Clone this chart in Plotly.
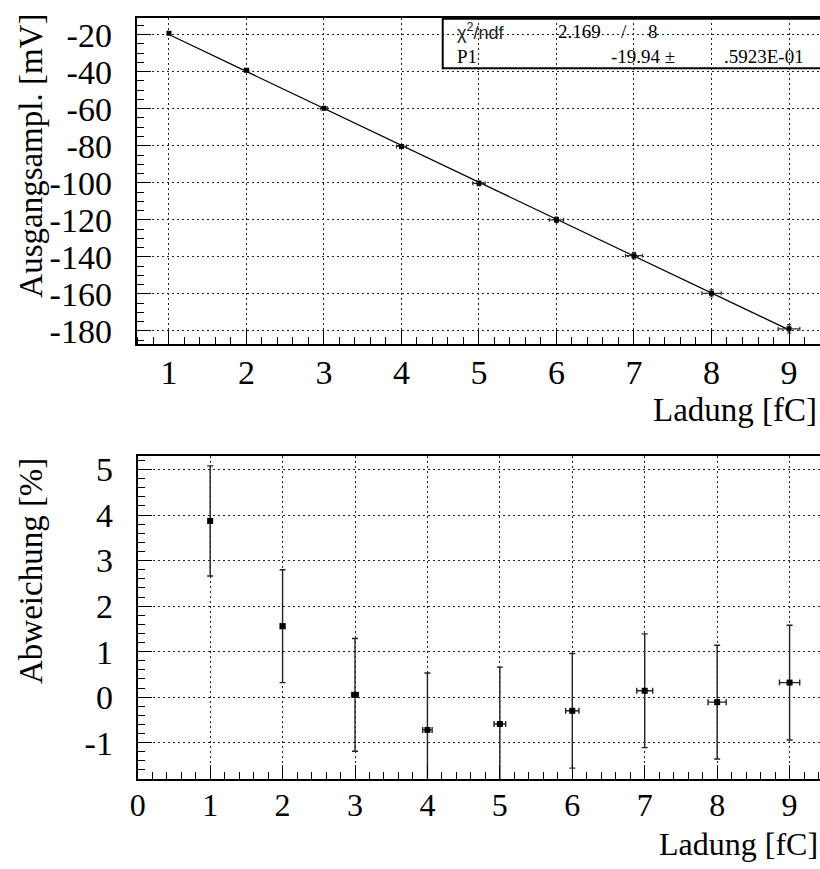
import plotly.graph_objects as go

# Charge steps [fC]
charge = [1, 2, 3, 4, 5, 6, 7, 8, 9]
charge_err = [0.016, 0.03, 0.047, 0.065, 0.08, 0.092, 0.11, 0.125, 0.14]

# Output amplitude [mV] and its uncertainty
amplitude = [-19.17, -39.26, -59.79, -80.34, -100.29, -120.0, -139.38, -159.70, -178.89]
amplitude_err = [0.25, 0.5, 0.75, 1.0, 1.25, 1.5, 1.75, 2.0, 2.25]

# Relative deviation from the linear fit [%]
deviation = [3.87, 1.56, 0.05, -0.72, -0.59, -0.30, 0.14, -0.11, 0.32]
deviation_err = [1.21, 1.24, 1.24, 1.25, 1.25, 1.26, 1.25, 1.25, 1.26]

# Fit result: U = P1 * Q
fit_p1 = -19.94
fit_p1_err = ".5923E-01"
chi2 = "2.169"
ndf = "8"

top_yticks = [-180, -160, -140, -120, -100, -80, -60, -40, -20]
top_xticks = [1, 2, 3, 4, 5, 6, 7, 8, 9]
bot_yticks = [-1, 0, 1, 2, 3, 4, 5]
bot_xticks = [0, 1, 2, 3, 4, 5, 6, 7, 8, 9]

W, H = 820, 869
SERIF = "Liberation Serif"
SANS = "Liberation Sans"


def px(x):
    return x / W


def py(y):
    return 1 - y / H


def labels(vals):
    # plain hyphen as the minus sign
    return [str(v) for v in vals]


fig = go.Figure()

# fit line
fit_x = [charge[0], charge[-1]]
fig.add_trace(go.Scatter(
    x=fit_x, y=[fit_p1 * v for v in fit_x], mode="lines",
    line=dict(color="black", width=1.2), xaxis="x", yaxis="y", hoverinfo="skip"))

# measured amplitudes
fig.add_trace(go.Scatter(
    x=charge, y=amplitude, mode="markers",
    marker=dict(symbol="square", size=5, color="black"),
    error_y=dict(type="data", array=amplitude_err, color="#333", thickness=1.2, width=2),
    error_x=dict(type="data", array=charge_err, color="#333", thickness=1.2, width=2),
    xaxis="x", yaxis="y"))

# deviations
fig.add_trace(go.Scatter(
    x=charge, y=deviation, mode="markers",
    marker=dict(symbol="square", size=6, color="black"),
    error_y=dict(type="data", array=deviation_err, color="#222", thickness=1.4, width=3),
    error_x=dict(type="data", array=charge_err, color="#222", thickness=1.4, width=3),
    xaxis="x2", yaxis="y2"))

tickfont = dict(family=SERIF, size=34, color="black")
common = dict(
    showline=True, linecolor="black", linewidth=2,
    ticks="inside", ticklen=14, tickwidth=1.2, tickcolor="black",
    showgrid=True, gridcolor="#222", griddash="2px,3px", gridwidth=1.2,
    zeroline=False,
)
minor_x = dict(dtick=0.2, tick0=0, ticks="inside", ticklen=7, tickcolor="black", showgrid=False)

fig.update_layout(
    width=W, height=H,
    margin=dict(l=0, r=0, t=0, b=0),
    paper_bgcolor="white", plot_bgcolor="white",
    showlegend=False,
    xaxis=dict(
        domain=[px(130), 1], range=[0.584, 9.4], anchor="y", tickfont=tickfont,
        tickvals=top_xticks, ticktext=labels(top_xticks), mirror=True, ticklabelstandoff=-2,
        minor=minor_x, **common),
    yaxis=dict(
        domain=[py(343), py(13)], range=[-186.9, -10.9], anchor="x", tickfont=tickfont,
        tickvals=top_yticks, ticktext=labels(top_yticks), ticklabelstandoff=16,
        minor=dict(dtick=5, tick0=0, ticks="inside", ticklen=7, tickcolor="black", showgrid=False),
        **common),
    xaxis2=dict(
        domain=[px(131), 1], range=[0, 9.42], anchor="y2",
        tickfont=dict(family=SERIF, size=32, color="black"),
        tickvals=bot_xticks, ticktext=labels(bot_xticks), mirror=True, ticklabelstandoff=-3,
        minor=minor_x, **common),
    yaxis2=dict(
        domain=[py(784), py(457)], range=[-1.80, 5.293], anchor="x2", tickfont=tickfont,
        tickvals=bot_yticks, ticktext=labels(bot_yticks), ticklabelstandoff=16,
        minor=dict(dtick=0.2, tick0=0, ticks="inside", ticklen=7, tickcolor="black", showgrid=False),
        **common),
)

titlefont = dict(family=SERIF, size=33, color="black")
annotations = [
    dict(text="Ausgangsampl. [mV]", x=px(23), y=py(7), xanchor="center", yanchor="top",
         textangle=-90, font=titlefont),
    dict(text="Abweichung [%]", x=px(23), y=py(457), xanchor="center", yanchor="top",
         textangle=-90, font=titlefont),
    dict(text="Ladung [fC]", x=px(819), y=py(410), xanchor="right", yanchor="middle",
         font=titlefont),
    dict(text="Ladung [fC]", x=px(819), y=py(869), xanchor="right", yanchor="bottom",
         font=dict(family=SERIF, size=32, color="black"), borderpad=0),
]

# fit statistics box
statfont = dict(family=SERIF, size=19, color="black")
annotations += [
    dict(text="χ<sup>2</sup>/ndf", x=px(451), y=py(27), xanchor="left", yanchor="middle",
         font=dict(family=SANS, size=18, color="#222")),
    dict(text=chi2, x=px(553), y=py(27), xanchor="left", yanchor="middle", font=statfont),
    dict(text="/", x=px(622), y=py(27), xanchor="center", yanchor="middle", font=statfont),
    dict(text=ndf, x=px(651), y=py(27), xanchor="center", yanchor="middle", font=statfont),
    dict(text="P1", x=px(451), y=py(52), xanchor="left", yanchor="middle", font=statfont),
    dict(text=f"{fit_p1:.2f} ±", x=px(676), y=py(52), xanchor="right", yanchor="middle", font=statfont),
    dict(text=fit_p1_err, x=px(806), y=py(52), xanchor="right", yanchor="middle", font=statfont),
]
for a in annotations:
    a.update(xref="paper", yref="paper", showarrow=False)
fig.update_layout(annotations=annotations)

fig.add_shape(type="rect", xref="paper", yref="paper",
              x0=px(439), x1=px(830), y0=py(64), y1=py(14),
              line=dict(color="black", width=2), fillcolor="rgba(0,0,0,0)")

fig.write_html("out.html")
